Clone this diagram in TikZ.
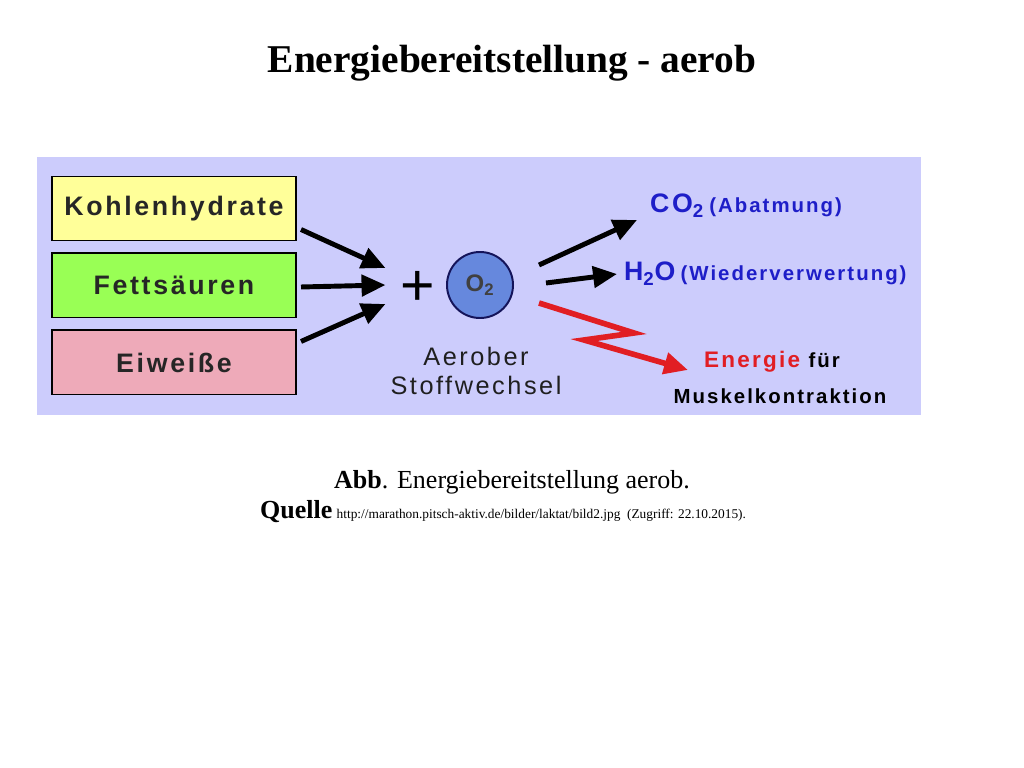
\documentclass[tikz,border=0pt]{standalone}
\usepackage{fontspec}
\setmainfont{Liberation Serif}
\newfontfamily\diafont[LetterSpace=10]{Liberation Sans}
\newfontfamily\sansplain{Liberation Sans}
\usetikzlibrary{arrows.meta,positioning}
\tikzset{>=latex}
\definecolor{panelbg}{RGB}{204,204,252}
\definecolor{khyellow}{RGB}{255,255,153}
\definecolor{fsgreen}{RGB}{153,255,85}
\definecolor{ewpink}{RGB}{238,170,185}
\definecolor{otwoblue}{RGB}{102,136,221}
\definecolor{otwoline}{RGB}{20,20,90}
\definecolor{prodblue}{RGB}{30,30,200}
\definecolor{energyred}{RGB}{225,30,35}
\def\fs#1{\fontsize{#1}{#1}\selectfont}
\tikzset{
  fooditem/.style={draw=black, line width=1.4pt, minimum width=6.1cm, minimum height=1.6cm,
    font=\diafont\bfseries\fs{19}, text=black!85},
  fatarrow/.style={line width=3.5pt, -{Triangle[length=17pt,width=15pt]}},
  product/.style={anchor=west, inner sep=2pt, font=\diafont\bfseries}
}

\begin{document}
\begin{tikzpicture}[x=0.025cm, y=-0.025cm]
          \useasboundingbox (0,0) rectangle (1024,768);
          \node (title) at (512,63) {\bfseries\fs{28}Energiebereitstellung - aerob};
          \fill[panelbg] (37,157) rectangle (921,415);

          \node[fooditem, fill=khyellow] (kh) at (174,208.5) {Kohlenhydrate};
          \node[fooditem, fill=fsgreen, below=0.275cm of kh] (fs) {Fettsäuren};
          \node[fooditem, fill=ewpink, below=0.275cm of fs] (ew) {Eiweiße};

          \node[font=\sansplain\fs{42}, inner sep=0pt] (plus) at (418,288) {+};
          \node[circle, draw=otwoline, fill=otwoblue, line width=1.4pt, minimum size=1.65cm,
            font=\sansplain\bfseries\fs{17}, text=black!75] (otwo) at (480,285) {O\textsubscript{2}};
          \node[align=center, font=\diafont\fs{18}, text=black!88] (stoff) at (476,371)
            {Aerober\\[3pt]Stoffwechsel};

          \node[product, text=prodblue] (co2) at (647,206)
            {{\fs{19}CO\textsubscript{2}} {\fs{14.5}(Abatmung)}};
          \node[product, text=prodblue] (h2o) at (621,274)
            {{\fs{19}H\textsubscript{2}O} {\fs{14.5}(Wiederverwertung)}};
          \node[product] (energie) at (701,362)
            {{\fs{16}\color{energyred}Energie}\hspace{6pt}{\fs{14.5}für}};
          \node[font=\diafont\bfseries\fs{14.5}] (muskel) at (780,396) {Muskelkontraktion};

          \draw[fatarrow] ([shift={(4,21)}]kh.east) -- ([shift={(-15,-20)}]plus.west);
          \draw[fatarrow] ([shift={(4,1.5)}]fs.east) -- ([shift={(-15,-3)}]plus.west);
          \draw[fatarrow] ([shift={(4,-21)}]ew.east) -- ([shift={(-15,16)}]plus.west);

          \draw[fatarrow] ([shift={(25,-20)}]otwo.east) -- ([shift={(-10,14)}]co2.west);
          \draw[fatarrow] ([shift={(32,-2)}]otwo.east) -- ([shift={(-4,0)}]h2o.west);
          \draw[fatarrow, energyred, line width=4pt, line join=miter]
            ([shift={(25,18)}]otwo.east) -- ++(95,30) -- ++(-50,7) -- ([shift={(-13,8)}]energie.west);

          \node (abb) at (512,482) {\fs{18.5}\textbf{Abb}. Energiebereitstellung aerob.};
          \node (quelle) at (503,512) {\fs{18.5}\textbf{Quelle}\,{\fs{9.5}http://marathon.pitsch-aktiv.de/bilder/laktat/bild2.jpg\ \ (Zugriff: 22.10.2015).}};
        \end{tikzpicture}
\end{document}
